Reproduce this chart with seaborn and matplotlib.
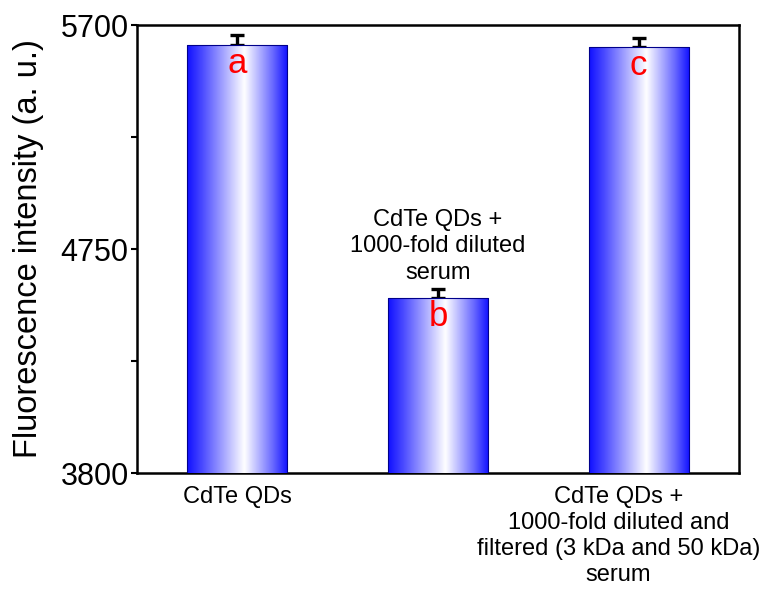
import numpy as np
import pandas as pd
import matplotlib
matplotlib.use("Agg")
import matplotlib.pyplot as plt
import seaborn as sns
from matplotlib.colors import LinearSegmentedColormap
from matplotlib.ticker import FixedLocator

# ---- data ----
categories = ["CdTe QDs",
              "CdTe QDs +\n1000-fold diluted\nserum",
              "CdTe QDs +\n1000-fold diluted and\nfiltered (3 kDa and 50 kDa)\nserum"]
tick_labels = ["CdTe QDs", "",
               "CdTe QDs +\n1000-fold diluted and\nfiltered (3 kDa and 50 kDa)\nserum"]
values = [5615, 4542, 5607]
errors = [42, 38, 38]
letters = ["a", "b", "c"]
middle_note = "CdTe QDs +\n1000-fold diluted\nserum"
y_ticks = [3800, 4750, 5700]
y_minor = [4275, 5225]

sns.set_style("white")
plt.rcParams['font.family'] = ['Liberation Sans', 'DejaVu Sans']
plt.rcParams['text.color'] = 'black'
plt.rcParams['axes.labelcolor'] = 'black'
plt.rcParams['xtick.color'] = 'black'
plt.rcParams['ytick.color'] = 'black'

df = pd.DataFrame({"cat": categories, "val": values})

fig = plt.figure(figsize=(7.64, 5.94), dpi=100)
ax = fig.add_axes([0.1793, 0.2037, 0.7880, 0.7542])

sns.barplot(data=df, x="cat", y="val", order=categories, ax=ax, width=0.5,
            color="#0000ff", edgecolor="#00008b", linewidth=0.8, zorder=3)

ax.set_ylim(3800, 5700)
ax.set_xlim(-0.5, 2.5)

# gradient fill inside bars
cmap = LinearSegmentedColormap.from_list(
    "bw", [(0.0, "#1010ff"), (0.15, "#4a4aff"), (0.57, "#ffffff"),
           (0.85, "#6a6aff"), (1.0, "#1010ff")])
grad = np.linspace(0, 1, 256).reshape(1, -1)
for p in ax.patches:
    x0, y0 = p.get_x(), p.get_y()
    w, h = p.get_width(), p.get_height()
    im = ax.imshow(grad, cmap=cmap, aspect="auto",
                   extent=[x0, x0 + w, 3800, y0 + h], zorder=3.5,
                   interpolation="bicubic")
    im.set_clip_path(p)
    p.set_facecolor("none")
    p.set_zorder(4)

# error bars (upper only)
xpos = np.arange(len(categories))
ax.errorbar(xpos, values, yerr=[np.zeros(len(errors)), errors], fmt="none",
            ecolor="black", elinewidth=2.4, capsize=5, capthick=2.4, zorder=2)

# letters
for xi, v, t in zip(xpos, values, letters):
    ax.annotate(t, xy=(xi, v), xytext=(0, -20), textcoords="offset points",
                ha="center", va="baseline", color="red", fontsize=25, zorder=6)

# middle note above bar b
ax.annotate(middle_note, xy=(1, values[1] + errors[1]), xytext=(0, 4),
            textcoords="offset points", ha="center", va="bottom",
            fontsize=17, linespacing=1.25, zorder=6)

# invisible x ticks; the long last label is nudged left to stay in the figure
tick_pos = xpos - np.array([0.0, 0.0, 0.1])
ax.set_xticks(tick_pos)
ax.set_xticklabels(tick_labels, fontsize=17, linespacing=1.25)
ax.set_xlabel("")
ax.set_ylabel("Fluorescence intensity (a. u.)", fontsize=23.5, labelpad=12)
ax.yaxis.set_major_locator(FixedLocator(y_ticks))
ax.yaxis.set_minor_locator(FixedLocator(y_minor))
ax.tick_params(axis="y", which="both", direction="out", length=4, width=1.5,
               labelsize=22, left=True, right=False, pad=2)
ax.tick_params(axis="x", which="both", length=0, pad=9)

for s in ax.spines.values():
    s.set_linewidth(1.8)
    s.set_color("black")
    s.set_visible(True)

fig.savefig("out.png", dpi=100)
